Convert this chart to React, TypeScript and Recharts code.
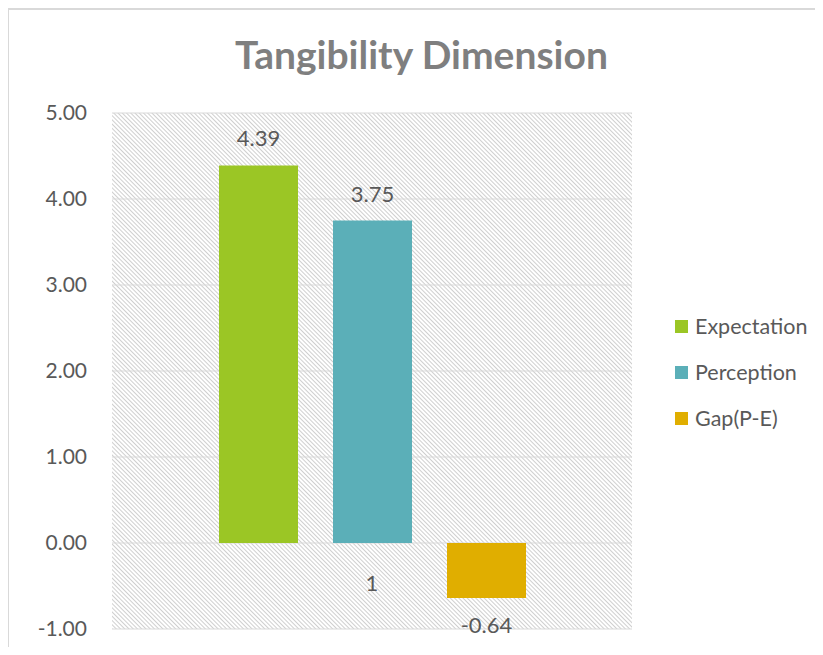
import { Bar, BarChart, CartesianGrid, LabelList, Legend, XAxis, YAxis } from "recharts";

const categories = ["1"];
const seriesKeys = ["expectation", "perception", "gap"];
const seriesNames = ["Expectation", "Perception", "Gap(P-E)"];
const seriesColors = ["#9bc625", "#5bafb8", "#e0ae00"];
const expectation = [4.39];
const perception = [3.75];
const gap = [-0.64];
const yTicks = [-1, 0, 1, 2, 3, 4, 5];

const data = categories.map((name, i) => ({
  name,
  expectation: expectation[i],
  perception: perception[i],
  gap: gap[i],
}));

const FONT = "Lato, 'Open Sans', sans-serif";
const TEXT = "#595959";

// value sits above a positive bar, below a negative one
function ValueLabel(props: any) {
  const { x, y, width, height, value } = props;
  const top = Math.min(y, y + height);
  const bottom = Math.max(y, y + height);
  const ty = value >= 0 ? top - 19 : bottom + 35;
  return (
    <text x={x + width / 2} y={ty} textAnchor="middle" fill={TEXT} fontSize={22} fontFamily={FONT}>
      {Number(value).toFixed(2)}
    </text>
  );
}

function CategoryTick(props: any) {
  const { x, y, payload } = props;
  return (
    <text x={x} y={y - 38} textAnchor="middle" fill={TEXT} fontSize={22} fontFamily={FONT}>
      {payload.value}
    </text>
  );
}

function LegendList() {
  return (
    <div style={{ fontFamily: FONT, fontSize: 21.5, color: TEXT }}>
      {seriesNames.map((name, i) => (
        <div key={name} style={{ display: "flex", alignItems: "center", height: 46 }}>
          <span style={{ width: 13, height: 13, background: seriesColors[i], marginRight: 7 }} />
          {name}
        </div>
      ))}
    </div>
  );
}

export default function App() {
  return (
    <div style={{ position: "relative", width: 823, height: 655, margin: -8, background: "#fff", overflow: "hidden" }}>
      <div
        style={{
          position: "absolute",
          left: 7,
          top: 8,
          width: 830,
          height: 660,
          borderLeft: "2px solid #d9d9d9",
          borderTop: "2px solid #d9d9d9",
        }}
      />
      <div
        style={{
          position: "absolute",
          left: 0,
          width: 843,
          top: 31,
          textAlign: "center",
          fontFamily: FONT,
          fontWeight: 700,
          fontSize: 39,
          color: "#7f7f7f",
        }}
      >
        Tangibility Dimension
      </div>
      <div style={{ position: "absolute", left: 0, top: 0 }}>
        <BarChart
          width={823}
          height={655}
          data={data}
          margin={{ top: 113, right: 191, bottom: 0, left: 0 }}
          barSize={79}
          barGap={35}
        >
          <defs>
            <pattern id="hatch" width={3} height={3} patternUnits="userSpaceOnUse" patternTransform="rotate(-45)">
              <line x1={0.5} y1={0} x2={0.5} y2={3} stroke="#cfcfcf" strokeWidth={1} />
            </pattern>
          </defs>
          <CartesianGrid vertical={false} stroke="#d9d9d9" fill="url(#hatch)" fillOpacity={1} />
          <XAxis
            dataKey="name"
            height={26}
            axisLine={false}
            tickLine={false}
            tickSize={0}
            tickMargin={0}
            tick={<CategoryTick />}
          />
          <YAxis
            width={112}
            domain={[-1, 5]}
            ticks={yTicks}
            tickFormatter={(v) => Number(v).toFixed(2)}
            axisLine={false}
            tickLine={false}
            tickSize={0}
            tickMargin={25}
            tick={{ fill: TEXT, fontSize: 21, fontFamily: FONT }}
            interval={0}
          />
          <Legend
            layout="vertical"
            align="center"
            verticalAlign="middle"
            wrapperStyle={{ left: 675, top: 303, width: 150 }}
            content={() => <LegendList />}
          />
          {seriesKeys.map((key, i) => (
            <Bar key={key} dataKey={key} name={seriesNames[i]} fill={seriesColors[i]} isAnimationActive={false}>
              <LabelList dataKey={key} content={<ValueLabel />} />
            </Bar>
          ))}
        </BarChart>
      </div>
    </div>
  );
}
